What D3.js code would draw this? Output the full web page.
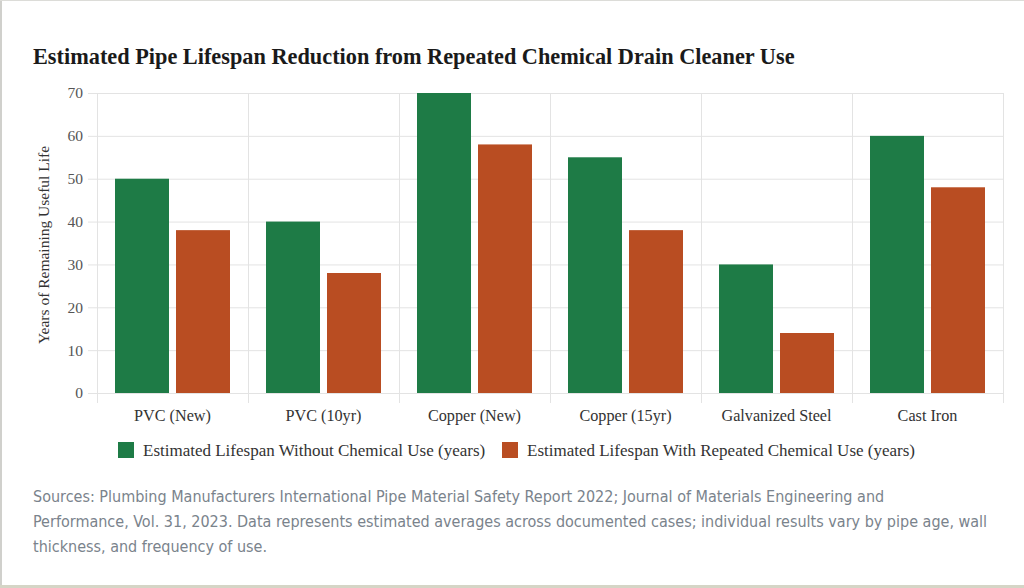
<!DOCTYPE html>
<html lang="en">
<head>
<meta charset="utf-8">
<title>Estimated Pipe Lifespan Reduction</title>
<script src="https://d3js.org/d3.v7.min.js"></script>
<style>
  body { margin: 0; background: #fff; }
  svg { display: block; }
</style>
</head>
<body>
<script>
// data
const categories = ["PVC (New)", "PVC (10yr)", "Copper (New)", "Copper (15yr)", "Galvanized Steel", "Cast Iron"];
const seriesNames = ["Estimated Lifespan Without Chemical Use (years)", "Estimated Lifespan With Repeated Chemical Use (years)"];
const withoutChem = [50, 40, 70, 55, 30, 60];
const withChem = [38, 28, 58, 38, 14, 48];
const yTicks = [0, 10, 20, 30, 40, 50, 60, 70];
const footLines = [
  "Sources: Plumbing Manufacturers International Pipe Material Safety Report 2022; Journal of Materials Engineering and",
  "Performance, Vol. 31, 2023. Data represents estimated averages across documented cases; individual results vary by pipe age, wall",
  "thickness, and frequency of use."
];

const W = 1024, H = 588;
const colors = ["#1e7b46", "#b94d22"];
const serif = "'Liberation Serif', 'DejaVu Serif', serif";

const svg = d3.select("body").append("svg")
  .attr("width", W).attr("height", H);

// card border
svg.append("rect").attr("x", 0).attr("y", 0).attr("width", W).attr("height", H).attr("fill", "#fff");
svg.append("rect").attr("x", 0).attr("y", 0).attr("width", 2).attr("height", H).attr("fill", "#d0d0cc");
svg.append("rect").attr("x", 0).attr("y", 0).attr("width", W).attr("height", 1).attr("fill", "#dcdcd8");
svg.append("rect").attr("x", 0).attr("y", H - 3).attr("width", W).attr("height", 3).attr("fill", "#d5d5c6");

// title
svg.append("text")
  .attr("x", 33).attr("y", 64)
  .attr("font-family", serif).attr("font-weight", "bold").attr("font-size", 22.3)
  .attr("fill", "#1a1a1a")
  .text("Estimated Pipe Lifespan Reduction from Repeated Chemical Drain Cleaner Use");

// scales
const x0 = d3.scaleBand().domain(categories).range([97, 1003]);
const x1 = d3.scaleBand().domain([0, 1]).range([18, x0.bandwidth() - 18]).paddingInner(0.115);
const y = d3.scaleLinear().domain([0, 70]).range([393, 93]);

// horizontal grid + ticks
const gy = svg.append("g");
gy.selectAll("line").data(yTicks).enter().append("line")
  .attr("x1", 88).attr("x2", 1003)
  .attr("y1", d => y(d) + 0.5).attr("y2", d => y(d) + 0.5)
  .attr("stroke", "#e3e3e3").attr("stroke-width", 1);
gy.selectAll("text").data(yTicks).enter().append("text")
  .attr("x", 83).attr("y", d => y(d)).attr("dy", "0.35em")
  .attr("text-anchor", "end")
  .attr("font-family", serif).attr("font-size", 15.5).attr("fill", "#555")
  .text(d => d);

// vertical grid at band edges
const edges = categories.map(c => x0(c)).concat([x0.range()[1]]);
svg.append("g").selectAll("line").data(edges).enter().append("line")
  .attr("x1", d => Math.round(d) + 0.5).attr("x2", d => Math.round(d) + 0.5)
  .attr("y1", 93).attr("y2", 403)
  .attr("stroke", "#e3e3e3").attr("stroke-width", 1);

// bars
const rows = categories.map((c, i) => ({ cat: c, vals: [withoutChem[i], withChem[i]] }));
const grp = svg.append("g").selectAll("g").data(rows).enter().append("g")
  .attr("transform", d => "translate(" + x0(d.cat) + ",0)");
grp.selectAll("rect").data(d => d.vals.map((v, k) => ({ k, v }))).enter().append("rect")
  .attr("x", d => x1(d.k)).attr("width", x1.bandwidth())
  .attr("y", d => y(d.v)).attr("height", d => y(0) - y(d.v))
  .attr("fill", d => colors[d.k]);

// category labels
svg.append("g").selectAll("text").data(categories).enter().append("text")
  .attr("x", d => x0(d) + x0.bandwidth() / 2).attr("y", 421)
  .attr("text-anchor", "middle")
  .attr("font-family", serif).attr("font-size", 16.2).attr("fill", "#333")
  .text(d => d);

// y axis title
svg.append("text")
  .attr("transform", "translate(49,245) rotate(-90)")
  .attr("text-anchor", "middle")
  .attr("font-family", serif).attr("font-size", 15.5).attr("fill", "#333")
  .text("Years of Remaining Useful Life");

// legend
const legX = [118, 502];
const leg = svg.append("g").selectAll("g").data(seriesNames).enter().append("g")
  .attr("transform", (d, i) => "translate(" + legX[i] + ",442)");
leg.append("rect").attr("width", 16).attr("height", 16).attr("fill", (d, i) => colors[i]);
leg.append("text").attr("x", 25).attr("y", 13.5)
  .attr("font-family", serif).attr("font-size", 17).attr("fill", "#333")
  .text(d => d);

// sources note
svg.append("g").selectAll("text").data(footLines).enter().append("text")
  .attr("x", 33).attr("y", (d, i) => 502 + i * 25)
  .attr("font-family", "'Liberation Sans Narrow', 'DejaVu Sans Condensed', sans-serif")
  .attr("font-size", 16).attr("fill", "#7a838c")
  .text(d => d);
</script>
</body>
</html>
